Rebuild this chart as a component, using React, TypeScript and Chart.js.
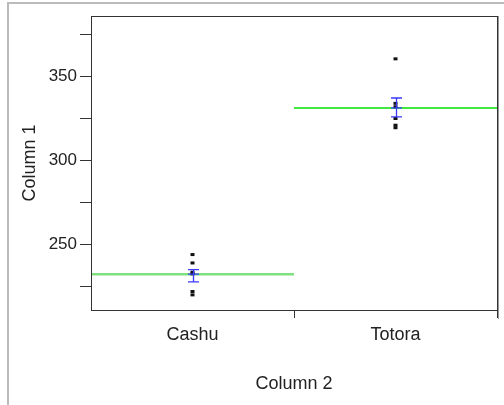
import React, { useEffect, useRef } from "react";
import { Chart, registerables } from "chart.js";

Chart.register(...registerables);

const categories = ["Cashu", "Totora"];
const cashuValues = [244, 239, 233.5, 232.5, 222, 220];
const totoraValues = [360.5, 334, 332, 325, 321, 319.5];
const groupMeans = [232.3, 331.3];
const errorLow = [227.7, 326];
const errorHigh = [235, 337.2];
const yTickValues = [225, 250, 275, 300, 325, 350, 375];
const yLabelValues = [250, 300, 350];
const xTitle = "Column 2";
const yTitle = "Column 1";

const FONT = "'Liberation Sans', Arial, sans-serif";
const INK = "#222";

export default function App() {
  const ref = useRef<HTMLCanvasElement | null>(null);

  useEffect(() => {
    const canvas = ref.current;
    if (!canvas) return;

    const pointData = (vals: number[], idx: number) => vals.map((v) => ({ x: idx, y: v }));

    const extras = {
      id: "extras",
      afterDatasetsDraw(chart: any) {
        const ctx = chart.ctx;
        const xs = chart.scales.x;
        const ys = chart.scales.y;
        ctx.save();
        ctx.strokeStyle = "#3a3aff";
        ctx.lineWidth = 1.3;
        for (let i = 0; i < categories.length; i++) {
          const x = Math.round(xs.getPixelForValue(i)) + 0.5;
          const yl = ys.getPixelForValue(errorLow[i]);
          const yh = ys.getPixelForValue(errorHigh[i]);
          const ym = ys.getPixelForValue(groupMeans[i]);
          ctx.beginPath();
          ctx.moveTo(x, yl);
          ctx.lineTo(x, yh);
          ctx.moveTo(x - 5.5, yl);
          ctx.lineTo(x + 5.5, yl);
          ctx.moveTo(x - 5.5, yh);
          ctx.lineTo(x + 5.5, yh);
          ctx.moveTo(x - 5.5, ym);
          ctx.lineTo(x + 5.5, ym);
          ctx.stroke();
        }
        ctx.restore();
      },
      afterDraw(chart: any) {
        const ctx = chart.ctx;
        const a = chart.chartArea;
        ctx.save();
        ctx.strokeStyle = "#333";
        ctx.lineWidth = 1;
        ctx.strokeRect(Math.round(a.left) + 0.5, Math.round(a.top) + 0.5, Math.round(a.right - a.left), Math.round(a.bottom - a.top));
        ctx.strokeStyle = "#999";
        ctx.beginPath();
        ctx.moveTo(Math.round(a.right) + 1.5, Math.round(a.top));
        ctx.lineTo(Math.round(a.right) + 1.5, Math.round(a.bottom) + 9);
        ctx.stroke();
        // outer frame
        ctx.strokeStyle = "#bbb";
        ctx.lineWidth = 2;
        ctx.beginPath();
        ctx.moveTo(8, 405);
        ctx.lineTo(8, 3);
        ctx.lineTo(504, 3);
        ctx.stroke();
        // titles
        ctx.fillStyle = INK;
        ctx.font = `18px ${FONT}`;
        ctx.textAlign = "center";
        ctx.textBaseline = "middle";
        ctx.fillText(xTitle, (a.left + a.right) / 2, 384);
        ctx.translate(30, (a.top + a.bottom) / 2);
        ctx.rotate(-Math.PI / 2);
        ctx.fillText(yTitle, 0, 0);
        ctx.restore();
      },
    };

    const chart = new Chart(canvas, {
      type: "scatter",
      data: {
        datasets: [
          {
            data: pointData(cashuValues, 0),
            pointStyle: "line",
            radius: 2,
            borderWidth: 3,
            borderColor: "#111",
            backgroundColor: "#111",
          },
          {
            data: pointData(totoraValues, 1),
            pointStyle: "line",
            radius: 2,
            borderWidth: 3,
            borderColor: "#111",
            backgroundColor: "#111",
          },
          {
            data: [
              { x: -0.5, y: groupMeans[0] },
              { x: 0.5, y: groupMeans[0] },
            ],
            showLine: true,
            pointRadius: 0,
            borderColor: "#80e080",
            borderWidth: 2.5,
            order: 5,
          },
          {
            data: [
              { x: 0.5, y: groupMeans[1] },
              { x: 1.5, y: groupMeans[1] },
            ],
            showLine: true,
            pointRadius: 0,
            borderColor: "#00e000",
            borderWidth: 1.5,
            order: 5,
          },
        ] as any,
      },
      options: {
        responsive: false,
        animation: false,
        layout: { padding: { top: 16, right: 5, left: 0, bottom: 0 } },
        plugins: { legend: { display: false }, tooltip: { enabled: false } },
        scales: {
          x: {
            type: "linear",
            min: -0.5,
            max: 1.5,
            afterFit: (s: any) => {
              s.height = 95;
            },
            afterBuildTicks: (s: any) => {
              s.ticks = [-0.5, 0, 0.5, 1, 1.5].map((v) => ({ value: v }));
            },
            ticks: {
              autoSkip: false,
              maxRotation: 0,
              padding: 6,
              color: INK,
              font: { family: FONT, size: 18 },
              callback: (v: any) => (Number.isInteger(v) ? categories[v] : ""),
            },
            grid: {
              drawOnChartArea: false,
              tickLength: 8,
              tickColor: (c: any) =>
                c.tick && (Number.isInteger(c.tick.value) || c.tick.value === -0.5) ? "rgba(0,0,0,0)" : "#333",
            },
            border: { color: "#333" },
          },
          y: {
            type: "linear",
            min: 211,
            max: 386,
            afterFit: (s: any) => {
              s.width = 91;
            },
            afterBuildTicks: (s: any) => {
              s.ticks = yTickValues.map((v) => ({ value: v }));
            },
            ticks: {
              padding: 3,
              color: INK,
              font: { family: FONT, size: 17 },
              callback: (v: any) => (yLabelValues.includes(v) ? String(v) : ""),
            },
            grid: { drawOnChartArea: false, tickLength: 11, tickColor: "#333" },
            border: { color: "#333" },
          },
        },
      },
      plugins: [extras],
    } as any);

    return () => chart.destroy();
  }, []);

  return (
    <div style={{ position: "fixed", left: 0, top: 0, width: 504, height: 405, background: "#fff" }}>
      <canvas ref={ref} width={504} height={405} style={{ display: "block" }} />
    </div>
  );
}
